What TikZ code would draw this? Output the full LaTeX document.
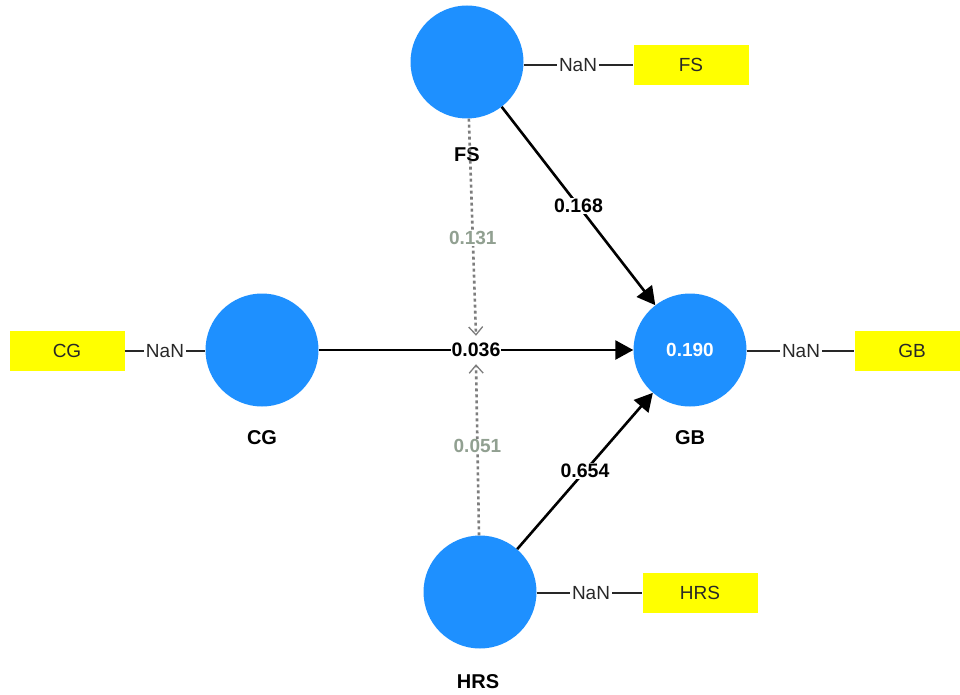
\documentclass[tikz,border=0pt]{standalone}
\usepackage{fontspec}
\setmainfont{Liberation Sans}
\usetikzlibrary{arrows.meta}
\definecolor{Construct}{RGB}{30, 144, 255}
\definecolor{Indicator}{RGB}{255, 255, 0}
\definecolor{Dash}{RGB}{125, 125, 125}
\definecolor{DashText}{RGB}{145, 160, 145}
\definecolor{Ink}{RGB}{40, 40, 40}

\tikzset{
    construct/.style={circle, fill=Construct, minimum size=113pt, inner sep=0pt,
        text=white, font=\fontsize{19}{22}\selectfont\bfseries},
    clabel/.style={font=\fontsize{20}{24}\selectfont\bfseries},
    indicator/.style={fill=Indicator, minimum width=115pt, minimum height=40pt,
        font=\fontsize{19}{22}\selectfont, text=Ink},
    nan/.style={font=\fontsize{19}{22}\selectfont, text=Ink, inner sep=2pt},
    link/.style={draw=Ink, line width=1.2pt},
    path/.style={line width=2.6pt, -{Triangle[length=18pt, width=19pt]}},
    coef/.style={fill=white, inner sep=1pt, font=\fontsize{19.5}{22}\selectfont\bfseries},
    moderator/.style={draw=Dash, line width=2.6pt, dash pattern=on 3pt off 3pt,
        -{Straight Barb[length=8pt, width=14pt, line width=1.3pt]}},
    mcoef/.style={fill=white, inner sep=1pt, text=DashText,
        font=\fontsize{19}{22}\selectfont\bfseries}
}

\begin{document}
\begin{tikzpicture}[x=1pt, y=-1pt]
\useasboundingbox (0,0) rectangle (960,695);

% Constructs
\node[construct] (FS) at (467,62) {};
\node[construct] (CG) at (262,350) {};
\node[construct] (GB) at (690,350) {0.190};
\node[construct] (HRS) at (480,592) {};

\node[clabel] (FSlab) at (467,155) {FS};
\node[clabel] (CGlab) at (262,438) {CG};
\node[clabel] (GBlab) at (690,438) {GB};
\node[clabel] (HRSlab) at (478,682) {HRS};

% Indicators
\node[indicator] (FSind) at (691,65) {FS};
\node[nan] (FSnan) at (578,65) {NaN};
\node[indicator] (CGind) at (67,351) {CG};
\node[nan] (CGnan) at (165,351) {NaN};
\node[indicator] (GBind) at (912,351) {GB};
\node[nan] (GBnan) at (801,351) {NaN};
\node[indicator] (HRSind) at (700,593) {HRS};
\node[nan] (HRSnan) at (591,593) {NaN};

\draw[link] (FSnan.west -| FS.east) -- (FSnan.west);
\draw[link] (FSnan.east) -- (FSind.west);
\draw[link] (CGind.east) -- (CGnan.west);
\draw[link] (CGnan.east) -- (CGnan.east -| CG.west);
\draw[link] (GBnan.west -| GB.east) -- (GBnan.west);
\draw[link] (GBnan.east) -- (GBind.west);
\draw[link] (HRSnan.west -| HRS.east) -- (HRSnan.west);
\draw[link] (HRSnan.east) -- (HRSind.west);

% Paths
\draw[path] (CG) -- node[coef] (CGcoef) {0.036} (GB);
\draw[path] (FS) -- node[coef] (FScoef) {0.168} (GB);
\draw[path] (HRS) -- node[coef] (HRScoef) {0.654} (GB);

% Moderating effects
\draw[moderator] (FS) -- node[mcoef, pos=0.55] (FSmod) {0.131} ([yshift=5pt]CGcoef.north);
\draw[moderator] (HRS) -- node[mcoef, pos=0.52] (HRSmod) {0.051} ([yshift=-5pt]CGcoef.south);

\end{tikzpicture}
\end{document}
